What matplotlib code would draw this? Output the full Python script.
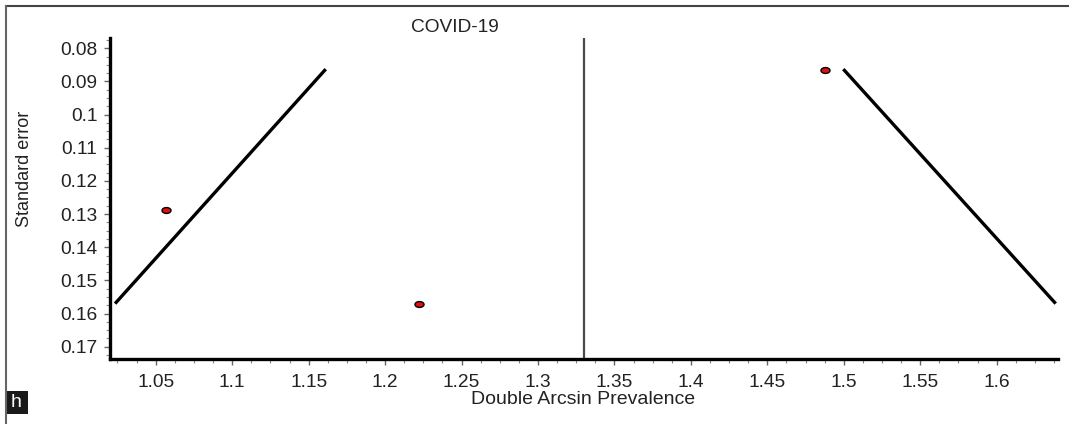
import numpy as np
import matplotlib
matplotlib.use("Agg")
import matplotlib.pyplot as plt
from matplotlib.path import Path
from matplotlib.lines import Line2D
from matplotlib.patches import Rectangle
from matplotlib.ticker import MultipleLocator, FixedLocator

# ---- data ----
study_x = [1.0565, 1.222, 1.4877]          # Double arcsin prevalence
study_se = [0.1287, 0.1571, 0.0866]         # Standard error
pooled = 1.3303                              # pooled estimate (vertical line)
left_line_x = [1.0234, 1.1612]               # pseudo 95% CI limits
left_line_se = [0.1570, 0.0863]
right_line_x = [1.6386, 1.4997]
right_line_se = [0.1570, 0.0863]
x_ticks = [1.05, 1.1, 1.15, 1.2, 1.25, 1.3, 1.35, 1.4, 1.45, 1.5, 1.55, 1.6]
x_tick_labels = ["1.05", "1.1", "1.15", "1.2", "1.25", "1.3", "1.35", "1.4", "1.45", "1.5", "1.55", "1.6"]
y_ticks = [0.08, 0.09, 0.10, 0.11, 0.12, 0.13, 0.14, 0.15, 0.16, 0.17]
y_tick_labels = ["0.08", "0.09", "0.1", "0.11", "0.12", "0.13", "0.14", "0.15", "0.16", "0.17"]

plt.rcParams['font.family'] = ['Liberation Sans', 'DejaVu Sans']

W, H = 1069, 424
fig = plt.figure(figsize=(W / 100, H / 100), dpi=100)
ax = fig.add_axes([110 / W, 1 - 359 / H, (1058 - 110) / W, (359 - 38.3) / H])

# elliptical marker
t = np.linspace(0, 2 * np.pi, 40)
ell = Path(np.column_stack([np.cos(t), 0.65 * np.sin(t)]), closed=True)

ax.plot(left_line_x, left_line_se, color='black', lw=2.4, solid_capstyle='butt')
ax.plot(right_line_x, right_line_se, color='black', lw=2.4, solid_capstyle='butt')
ax.axvline(pooled, color='#4a4a4a', lw=1.6)
ax.plot(study_x, study_se, linestyle='none', marker=ell, markersize=6.5,
        markerfacecolor='#e01010', markeredgecolor='black', markeredgewidth=1.0)

ax.set_xlim(1.0201, 1.6401)
ax.set_ylim(0.1737, 0.0770)

ax.xaxis.set_major_locator(FixedLocator(x_ticks))
ax.set_xticklabels(x_tick_labels)
ax.yaxis.set_major_locator(FixedLocator(y_ticks))
ax.set_yticklabels(y_tick_labels)
ax.xaxis.set_minor_locator(MultipleLocator(0.0125))
ax.yaxis.set_minor_locator(MultipleLocator(0.0025))

for s in ['top', 'right']:
    ax.spines[s].set_visible(False)
for s in ['left', 'bottom']:
    ax.spines[s].set_linewidth(2.4)
    ax.spines[s].set_color('black')

ax.tick_params(axis='both', which='major', direction='out', length=4, width=1,
               color='#666666', labelsize=13.8, labelcolor='#222222')
ax.tick_params(axis='both', which='minor', direction='out', length=3, width=0.8,
               color='#888888')
ax.tick_params(axis='x', which='major', pad=7)
ax.tick_params(axis='y', which='major', pad=5)

# texts
fig.text(455 / W, 1 - 27 / H, "COVID-19", ha='center', va='center',
         fontsize=13.8, color='#222222')
fig.text(25 / W, 1 - 169 / H, "Standard error", rotation=90, ha='center',
         va='center', fontsize=13, color='#222222')
fig.text(583 / W, 1 - 399 / H, "Double Arcsin Prevalence", ha='center',
         va='center', fontsize=14, color='#222222')

# panel letter box
fig.add_artist(Rectangle((5 / W, 1 - 414 / H), 23 / W, 23 / H,
                         transform=fig.transFigure, facecolor='#1a1a1a',
                         edgecolor='none'))
fig.text(16.5 / W, 1 - 402.5 / H, "h", ha='center', va='center',
         fontsize=14, color='white')

# outer frame (top and left)
fig.add_artist(Line2D([5.5 / W, 1], [1 - 6 / H, 1 - 6 / H],
                      transform=fig.transFigure, color='#444444', lw=1.5))
fig.add_artist(Line2D([5.5 / W, 5.5 / W], [0, 1 - 6 / H],
                      transform=fig.transFigure, color='#666666', lw=1.5))

fig.savefig("out.png", dpi=100)
